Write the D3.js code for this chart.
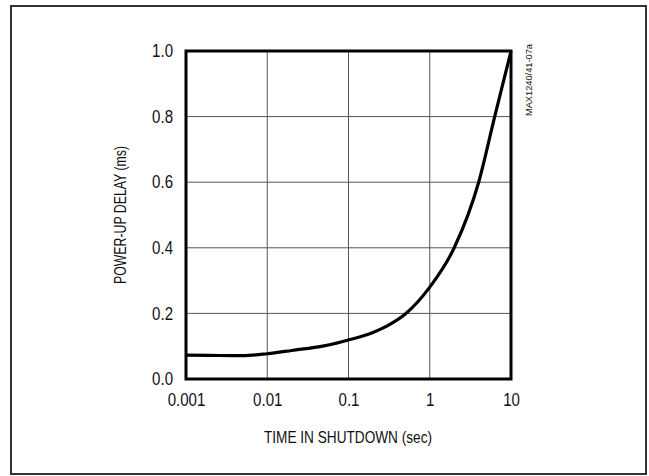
<!DOCTYPE html>
<html><head><meta charset="utf-8">
<script src="https://cdn.jsdelivr.net/npm/d3@7/dist/d3.min.js"></script>
<style>
body{margin:0;background:#fff;}
text{font-family:"Liberation Sans","Arial",sans-serif;fill:#111;}
</style></head>
<body>
<svg id="c" width="649" height="476"></svg>
<script>
const timeSec = [0.001, 0.002, 0.005, 0.01, 0.02, 0.05, 0.1, 0.2, 0.3, 0.5, 1, 2, 4, 6.3, 10];
const delayMs = [0.073, 0.072, 0.071, 0.077, 0.087, 0.101, 0.119, 0.142, 0.162, 0.198, 0.28, 0.40, 0.60, 0.80, 1.0];
const xTicks = [0.001, 0.01, 0.1, 1, 10];
const xTickLabels = ["0.001", "0.01", "0.1", "1", "10"];
const yTicks = [0, 0.2, 0.4, 0.6, 0.8, 1.0];
const yTickLabels = ["0.0", "0.2", "0.4", "0.6", "0.8", "1.0"];

const svg = d3.select("#c");
const L = 186, R = 511, T = 51, B = 379;
const x = d3.scaleLog().domain([0.001, 10]).range([L, R]);
const y = d3.scaleLinear().domain([0, 1]).range([B, T]);

function condense(sel, f) {
  sel.each(function () {
    const w = this.getComputedTextLength();
    d3.select(this).attr("textLength", w * f).attr("lengthAdjust", "spacingAndGlyphs");
  });
}

svg.append("rect").attr("x", 11).attr("y", 6).attr("width", 635).attr("height", 468)
  .attr("fill", "none").attr("stroke", "#333").attr("stroke-width", 2);

// grid
svg.append("g").selectAll("line").data(xTicks.slice(1, -1)).join("line")
  .attr("x1", d => x(d)).attr("x2", d => x(d)).attr("y1", T).attr("y2", B)
  .attr("stroke", "#555").attr("stroke-width", 1);
svg.append("g").selectAll("line").data(yTicks.slice(1, -1)).join("line")
  .attr("x1", L).attr("x2", R).attr("y1", d => y(d)).attr("y2", d => y(d))
  .attr("stroke", "#555").attr("stroke-width", 1);

// axes via d3
const xAxis = d3.axisBottom(x).tickValues(xTicks).tickFormat((d, i) => xTickLabels[i]).tickSize(0).tickPadding(15);
const gx = svg.append("g").attr("transform", `translate(0,${B})`).call(xAxis);
gx.select(".domain").remove();
gx.selectAll("text").attr("font-size", 17.5).style("font-family", '"Liberation Sans",Arial,sans-serif').attr("fill", "#111").call(condense, 0.86);

const yAxis = d3.axisLeft(y).tickValues(yTicks).tickFormat((d, i) => yTickLabels[i]).tickSize(0).tickPadding(13);
const gy = svg.append("g").attr("transform", `translate(${L},0)`).call(yAxis);
gy.select(".domain").remove();
gy.selectAll("text").attr("font-size", 17.5).style("font-family", '"Liberation Sans",Arial,sans-serif').attr("fill", "#111").call(condense, 0.86);

// curve
const line = d3.line().x((d, i) => x(timeSec[i])).y((d, i) => y(delayMs[i])).curve(d3.curveMonotoneX);
svg.append("path").datum(delayMs).attr("d", line).attr("fill", "none")
  .attr("stroke", "#000").attr("stroke-width", 3.2).attr("stroke-linejoin", "round");

// frame
svg.append("rect").attr("x", L).attr("y", T).attr("width", R - L).attr("height", B - T)
  .attr("fill", "none").attr("stroke", "#000").attr("stroke-width", 3);

// titles
svg.append("text").attr("x", 348).attr("y", 443).attr("text-anchor", "middle")
  .attr("font-size", 17).attr("textLength", 168).attr("lengthAdjust", "spacingAndGlyphs")
  .text("TIME IN SHUTDOWN (sec)");
svg.append("text").attr("transform", `translate(126,${(T + B) / 2}) rotate(-90)`).attr("text-anchor", "middle")
  .attr("font-size", 17).attr("textLength", 138).attr("lengthAdjust", "spacingAndGlyphs")
  .text("POWER-UP DELAY (ms)");
svg.append("text").attr("transform", `translate(532,44) rotate(-90)`).attr("text-anchor", "end")
  .attr("font-size", 9).attr("textLength", 72).attr("lengthAdjust", "spacingAndGlyphs")
  .text("MAX1240/41-07a");
</script>
</body></html>
